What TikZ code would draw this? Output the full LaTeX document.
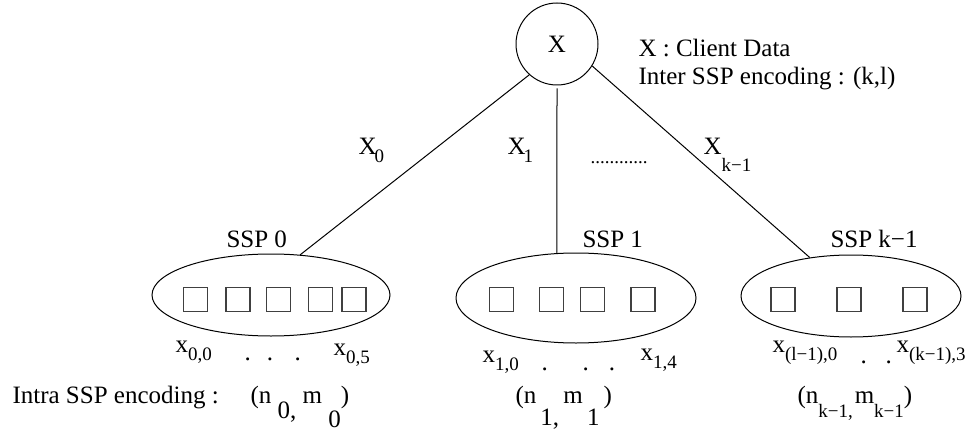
\documentclass[tikz,border=0pt]{standalone}
\usepackage{fontspec}
\setmainfont{Liberation Serif}
\usetikzlibrary{shapes.geometric}
\newcommand{\dn}[2]{\raisebox{-#1}{\fontsize{9.5}{10}\selectfont #2}}
\newcommand{\dnb}[2]{\raisebox{-#1}{#2}}

\begin{document}
\begin{tikzpicture}[x=0.5pt,y=-0.5pt,line width=0.5pt,
  every node/.style={font=\fontsize{12.5}{15}\selectfont},
  lbl/.style={anchor=base west,inner sep=0pt},
  cell/.style={draw=black!75,line width=0.6pt,minimum size=12pt,inner sep=0pt},
  pool/.style={draw,ellipse,inner sep=0pt}]
  \useasboundingbox (0,0) rectangle (974,433);
  \node[draw,circle,minimum size=41pt,inner sep=0pt] (X) at (557,44) {X};
  \node[pool,minimum width=119pt,minimum height=41pt] (ssp0) at (271,295) {};
  \node[pool,minimum width=120pt,minimum height=45pt] (ssp1) at (576,298) {};
  \node[pool,minimum width=110pt,minimum height=41pt] (ssp2) at (851,296) {};
  \foreach \x [count=\i] in {195.5,238,278.5,320.5,354} \node[cell] (c0\i) at (\x,299.5) {};
  \foreach \x [count=\i] in {501.5,551.5,592.5,643} \node[cell] (c1\i) at (\x,299.5) {};
  \foreach \x [count=\i] in {783,849,915} \node[cell] (c2\i) at (\x,299.5) {};
  \draw (X.228) -- (ssp0.54);
  \draw[shorten <=1.5pt] (X.south) -- (ssp1.113);
  \draw (X.-32) -- (ssp2.137);
  \node[lbl] (info) at (638,57) {X : Client Data};
  \node[lbl] (inter) at (638,85) {Inter SSP encoding : (k,l)};
  \node[lbl] (t0) at (226,247) {SSP 0};
  \node[lbl] (t1) at (582,247) {SSP 1};
  \node[lbl] (t2) at (830,247) {SSP k−1};
  \node[lbl] (e0) at (358,155) {X\kern-1pt\dn{4pt}{0}};
  \node[lbl] (e1) at (507,155) {X\kern-1pt\dn{4pt}{1}};
  \node[lbl] (ek) at (703,155) {X\dn{8.5pt}{k−1}};
  \node[lbl] (edots) at (590,163) {\fontsize{9.5}{10}\selectfont ............};
  \node[lbl] (x00) at (175,352) {x\dn{4pt}{0,0}};
  \node[lbl] (d0) at (244,360) {.\hspace{.65em}.\hspace{.85em}.};
  \node[lbl] (x05) at (333,355) {x\dn{4pt}{0,5}};
  \node[lbl] (x10) at (482,362) {x\dn{4pt}{1,0}};
  \node[lbl] (d1) at (541,370) {.\hspace{1.4em}.\hspace{.8em}.};
  \node[lbl] (x14) at (640,360) {x\dn{4pt}{1,4}};
  \node[lbl] (xk0) at (772,352) {x\dn{4pt}{(l−1),0}};
  \node[lbl] (dk) at (860,363) {.\hspace{.75em}.};
  \node[lbl] (xk3) at (896,352) {x\dn{4pt}{(k−1),3}};
  \node[lbl] (intra) at (12,403) {Intra SSP encoding :};
  \node[lbl] (enc0) at (250,403) {(n\ \dnb{7.5pt}{0,}\ m\ \dnb{12pt}{0})};
  \node[lbl] (enc1) at (515,403) {(n\,\dnb{11pt}{1,}\,m\,\dnb{11pt}{1}\,)};
  \node[lbl] (enck) at (797,403) {(n\dn{7pt}{k−1,}\kern1pt m\dn{7pt}{k−1})};
\end{tikzpicture}
\end{document}
